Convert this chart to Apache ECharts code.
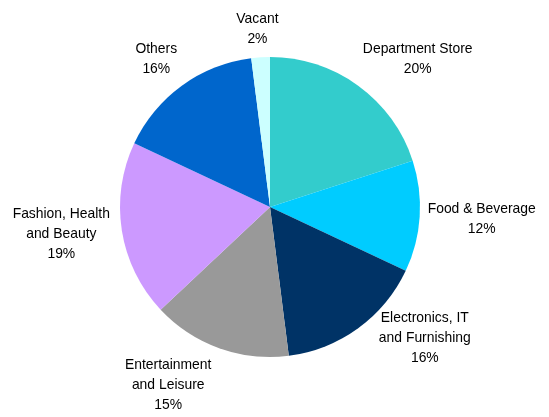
<!DOCTYPE html>
<html>
<head>
<meta charset="utf-8">
<script src="https://cdn.jsdelivr.net/npm/echarts@6/dist/echarts.min.js"></script>
<style>
  html, body { margin: 0; padding: 0; background: #ffffff; }
  #chart { width: 549px; height: 417px; }
</style>
</head>
<body>
<div id="chart"></div>
<script>
// ---- Data ----
const categories = [
  'Department Store',
  'Food & Beverage',
  'Electronics, IT\nand Furnishing',
  'Entertainment\nand Leisure',
  'Fashion, Health\nand Beauty',
  'Others',
  'Vacant'
];
const shares = [20, 12, 16, 15, 19, 16, 2];

// ---- Styles ----
const palette = ['#33CCCC', '#00CCFF', '#003366', '#999999', '#CC99FF', '#0066CC', '#CCFFFF'];
const cx = 270, cy = 207, radius = 150, gap = 8;
// small label nudges (style only), keyed by index
const labelNudge = { 2: [16, -27], 3: [-19, 0], 4: [-4, -7] };

const total = shares.reduce((a, b) => a + b, 0);

const chart = echarts.init(document.getElementById('chart'), null, { renderer: 'canvas' });
chart.setOption({
  backgroundColor: '#ffffff',
  animation: false,
  series: [{
    type: 'pie',
    center: [cx, cy],
    radius: radius,
    startAngle: 90,
    clockwise: true,
    avoidLabelOverlap: false,
    itemStyle: { borderWidth: 0 },
    emphasis: { disabled: true },
    label: {
      show: true,
      position: 'outside',
      formatter: '{b}\n{c}%',
      fontFamily: '"Liberation Sans", Arial, sans-serif',
      fontSize: 13.9,
      lineHeight: 20,
      color: '#000000',
      align: 'center'
    },
    labelLine: { show: false },
    labelLayout: function (p) {
      const i = p.dataIndex;
      let cum = 0;
      for (let j = 0; j < i; j++) cum += shares[j];
      const mid = (90 - (cum + shares[i] / 2) / total * 360) * Math.PI / 180;
      const c = Math.cos(mid), s = Math.sin(mid);
      const R = radius + gap;
      const ax = cx + c * R, ay = cy - s * R;
      const w = p.labelRect.width, h = p.labelRect.height;
      const fx = Math.max(-1, Math.min(1, 2 * c));
      const fy = Math.max(-1, Math.min(1, 2 * s));
      const n = labelNudge[i] || [0, 0];
      return {
        x: ax + fx * w / 2 + n[0],
        y: ay - fy * h / 2 + n[1],
        align: 'center',
        verticalAlign: 'middle'
      };
    },
    data: categories.map((name, i) => ({
      name: name,
      value: shares[i],
      itemStyle: { color: palette[i] }
    }))
  }]
});
</script>
</body>
</html>
